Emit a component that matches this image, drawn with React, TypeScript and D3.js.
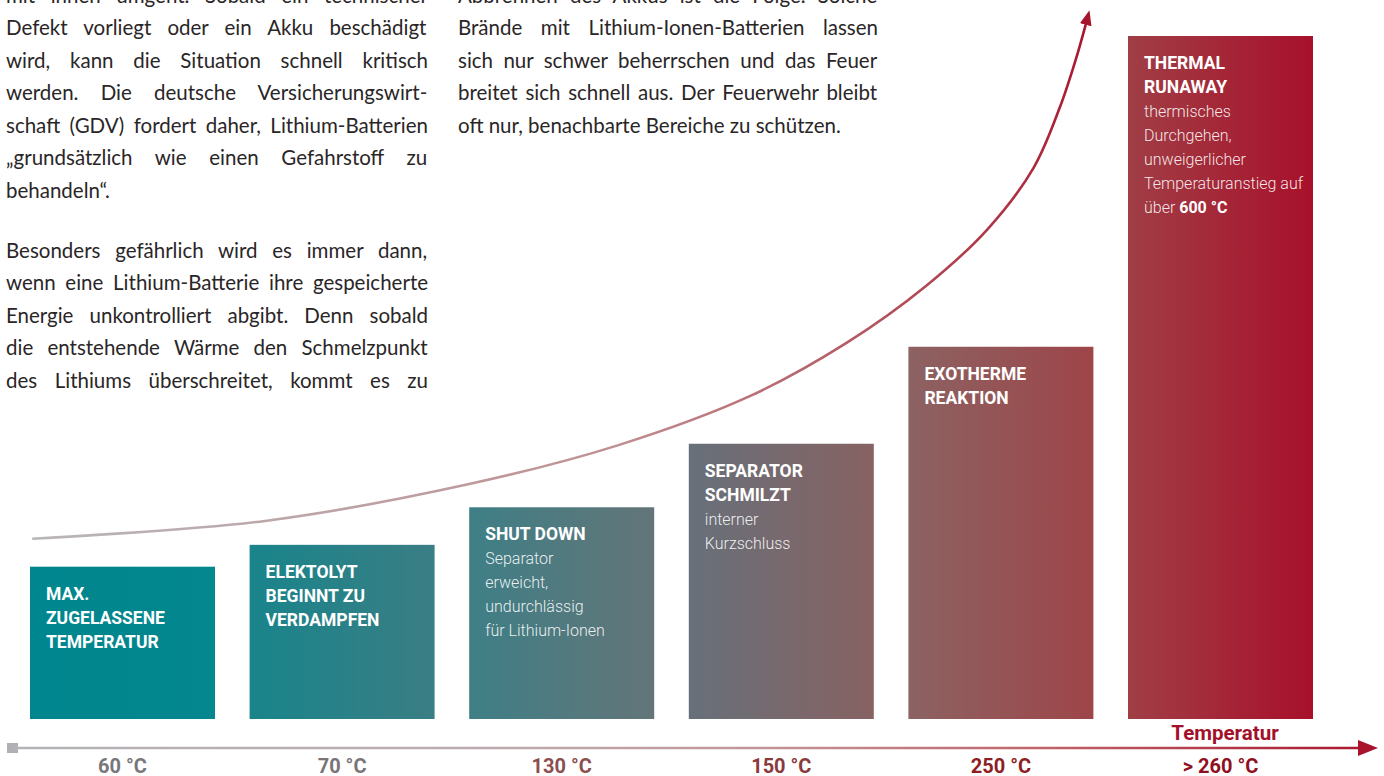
import React, { useEffect, useState } from "react";
import * as d3 from "d3";

// ---------- data ----------
const categories = ["60 °C", "70 °C", "130 °C", "150 °C", "250 °C", "> 260 °C"];
const levels = [22.3, 25.5, 31, 40.3, 54.5, 100];
const titles = [
  ["MAX.", "ZUGELASSENE", "TEMPERATUR"],
  ["ELEKTOLYT", "BEGINNT ZU", "VERDAMPFEN"],
  ["SHUT DOWN"],
  ["SEPARATOR", "SCHMILZT"],
  ["EXOTHERME", "REAKTION"],
  ["THERMAL", "RUNAWAY"],
];
const notes = [
  [],
  [],
  ["Separator", "erweicht,", "undurchlässig", "für Lithium-Ionen"],
  ["interner", "Kurzschluss"],
  [],
  ["thermisches", "Durchgehen,", "unweigerlicher", "Temperaturanstieg auf", "über |600 °C"],
];
const barLeftColors = ["#00868e", "#19848b", "#3e7f86", "#67707a", "#8c6262", "#a03e45"];
const barRightColors = ["#04878f", "#3a7e84", "#637578", "#876262", "#9e4549", "#a8102b"];
const tickColors = ["#77777b", "#7a7478", "#8b4f50", "#8a3a3b", "#8c1e24", "#8e1021"];

// curve: position along the category axis (in category steps) and level
const curvePos = [0.01, 1.07, 2.0, 2.68, 3.28, 3.72, 4.08, 4.36, 4.57, 4.69, 4.77, 4.82];
const curveLevel = [26.4, 29.0, 34.4, 40.1, 47.3, 55.1, 63.4, 71.7, 80.7, 89.6, 97.4, 103.2];

const leftParas = [
  [
    "mit ihnen umgeht. Sobald ein technischer",
    "Defekt vorliegt oder ein Akku beschädigt",
    "wird, kann die Situation schnell kritisch",
    "werden. Die deutsche Versicherungswirt-",
    "schaft (GDV) fordert daher, Lithium-Batterien",
    "„grundsätzlich wie einen Gefahrstoff zu",
    "behandeln“.",
  ],
  [
    "Besonders gefährlich wird es immer dann,",
    "wenn eine Lithium-Batterie ihre gespeicherte",
    "Energie unkontrolliert abgibt. Denn sobald",
    "die entstehende Wärme den Schmelzpunkt",
    "des Lithiums überschreitet, kommt es zu",
  ],
];
const leftParaLast = [true, false];
const midLines = [
  "Abbrennen des Akkus ist die Folge. Solche",
  "Brände mit Lithium-Ionen-Batterien lassen",
  "sich nur schwer beherrschen und das Feuer",
  "breitet sich schnell aus. Der Feuerwehr bleibt",
  "oft nur, benachbarte Bereiche zu schützen.",
];

// ---------- layout ----------
const W = 1384;
const H = 776;
const BODY_FONT = "Lato";
const BODY_SIZE = 20.5;
const LINE_H = 32.45;

let ctx: CanvasRenderingContext2D | null = null;
function measure(text: string, font: string) {
  if (!ctx) ctx = document.createElement("canvas").getContext("2d");
  ctx!.font = font;
  return ctx!.measureText(text).width;
}

function JustifiedBlock({ lines, x, y0, width, lastLeft }: { lines: string[]; x: number; y0: number; width: number; lastLeft: boolean }) {
  const font = `${BODY_SIZE}px ${BODY_FONT}`;
  return (
    <g>
      {lines.map((ln, i) => {
        const isLast = i === lines.length - 1 && lastLeft;
        const spaces = (ln.match(/ /g) || []).length;
        let ws = 0;
        if (!isLast && spaces > 0) {
          const nat = measure(ln, font);
          ws = (width - nat) / spaces;
        }
        return (
          <text
            key={i}
            x={x}
            y={y0 + i * LINE_H}
            fontFamily={BODY_FONT}
            fontSize={BODY_SIZE}
            fill="#2a2627"
            style={{ wordSpacing: `${ws}px`, whiteSpace: "pre" }}
          >
            {ln}
          </text>
        );
      })}
    </g>
  );
}

export default function App() {
  const [, setTick] = useState(0);
  useEffect(() => {
    document.body.style.margin = "0";
    document.body.style.overflow = "hidden";
    if ((document as any).fonts && (document as any).fonts.ready) {
      (document as any).fonts.ready.then(() => setTick((t) => t + 1));
    }
  }, []);

  const x = d3.scaleBand<string>().domain(categories).range([30, 1313]).paddingInner(0.1576).paddingOuter(0);
  const y = d3.scaleLinear().domain([0, 100]).range([719, 36]);
  const xPos = d3
    .scaleLinear()
    .domain([0, 1])
    .range([30, 30 + x.step()]);

  const bw = x.bandwidth();
  const axisY = 748;
  const axisX0 = 13;
  const axisTip = 1378;

  const curveData = curvePos.map((p, i) => [xPos(p), y(curveLevel[i])] as [number, number]);
  const line = d3.line().curve(d3.curveCatmullRom.alpha(0.5));
  const curvePath = line(curveData) || "";
  const c0 = curveData[0];
  const c1 = curveData[curveData.length - 1];

  return (
    <svg width={W} height={H} style={{ position: "absolute", left: 0, top: 0, display: "block", background: "#fff" }}>
      <defs>
        {categories.map((c, i) => (
          <linearGradient key={c} id={`bar${i}`} x1="0" y1="0" x2="1" y2="0">
            <stop offset="0" stopColor={barLeftColors[i]} />
            <stop offset="1" stopColor={barRightColors[i]} />
          </linearGradient>
        ))}
        <linearGradient id="curveGrad" gradientUnits="userSpaceOnUse" x1={c0[0]} y1={c0[1]} x2={c1[0]} y2={c1[1]}>
          <stop offset="0" stopColor="#b8b6ba" />
          <stop offset="0.47" stopColor="#c09092" />
          <stop offset="0.75" stopColor="#b24d58" />
          <stop offset="1" stopColor="#a8142c" />
        </linearGradient>
        <linearGradient id="axisGrad" gradientUnits="userSpaceOnUse" x1={axisX0} y1="0" x2={axisTip} y2="0">
          <stop offset="0" stopColor="#b4b3b8" />
          <stop offset="0.35" stopColor="#bcabae" />
          <stop offset="0.55" stopColor="#c39598" />
          <stop offset="0.75" stopColor="#bf656c" />
          <stop offset="1" stopColor="#a8142c" />
        </linearGradient>
        <marker id="curveArrow" markerUnits="userSpaceOnUse" markerWidth="16" markerHeight="14" refX="11" refY="6" orient="auto" viewBox="0 0 16 12">
          <path d="M0,0 L15,6 L0,12 Z" fill="#a8142c" />
        </marker>
      </defs>

      {/* body text */}
      <JustifiedBlock lines={leftParas[0]} x={6} y0={3} width={422} lastLeft={leftParaLast[0]} />
      <JustifiedBlock lines={leftParas[1]} x={6} y0={258} width={422} lastLeft={leftParaLast[1]} />
      <JustifiedBlock lines={midLines} x={458} y0={3} width={420} lastLeft={true} />

      {/* bars */}
      {categories.map((c, i) => {
        const bx = x(c)!;
        const by = y(levels[i]);
        const tx = bx + 16;
        const t0 = by + 33;
        return (
          <g key={c}>
            <rect x={bx} y={by} width={bw} height={y(0) - by} fill={`url(#bar${i})`} />
            {titles[i].map((t, j) => (
              <text key={"t" + j} x={tx} y={t0 + j * 24} fontFamily="Roboto" fontWeight={700} fontSize={17.5} fill="#fff">
                {t}
              </text>
            ))}
            {notes[i].map((t, j) => {
              const yy = t0 + (titles[i].length + j) * 24;
              const parts = t.split("|");
              return (
                <text key={"n" + j} x={tx} y={yy} fontFamily="Roboto" fontWeight={300} fontSize={16} fill="#fff" fillOpacity={0.9} style={{ whiteSpace: "pre" }}>
                  <tspan>{parts[0]}</tspan>
                  {parts[1] && (
                    <tspan fontWeight={700} fillOpacity={1}>
                      {parts[1]}
                    </tspan>
                  )}
                </text>
              );
            })}
          </g>
        );
      })}

      {/* curve */}
      <path d={curvePath} fill="none" stroke="url(#curveGrad)" strokeWidth={2.6} markerEnd="url(#curveArrow)" />

      {/* axis */}
      <rect x={7} y={axisY - 5} width={11} height={10} fill="#b1b0b5" />
      <line x1={axisX0} x2={axisTip - 16} y1={axisY} y2={axisY} stroke="url(#axisGrad)" strokeWidth={2.5} />
      <path d={`M${axisTip},${axisY} L${axisTip - 20},${axisY - 8} L${axisTip - 20},${axisY + 8} Z`} fill="#a8142c" />
      <text x={1225} y={740} textAnchor="middle" fontFamily="Roboto" fontWeight={700} fontSize={20.5} fill="#a3102a">
        Temperatur
      </text>
      {categories.map((c, i) => (
        <text key={c} x={x(c)! + bw / 2} y={773} textAnchor="middle" fontFamily="Roboto" fontWeight={700} fontSize={20} fill={tickColors[i]}>
          {c}
        </text>
      ))}
    </svg>
  );
}
